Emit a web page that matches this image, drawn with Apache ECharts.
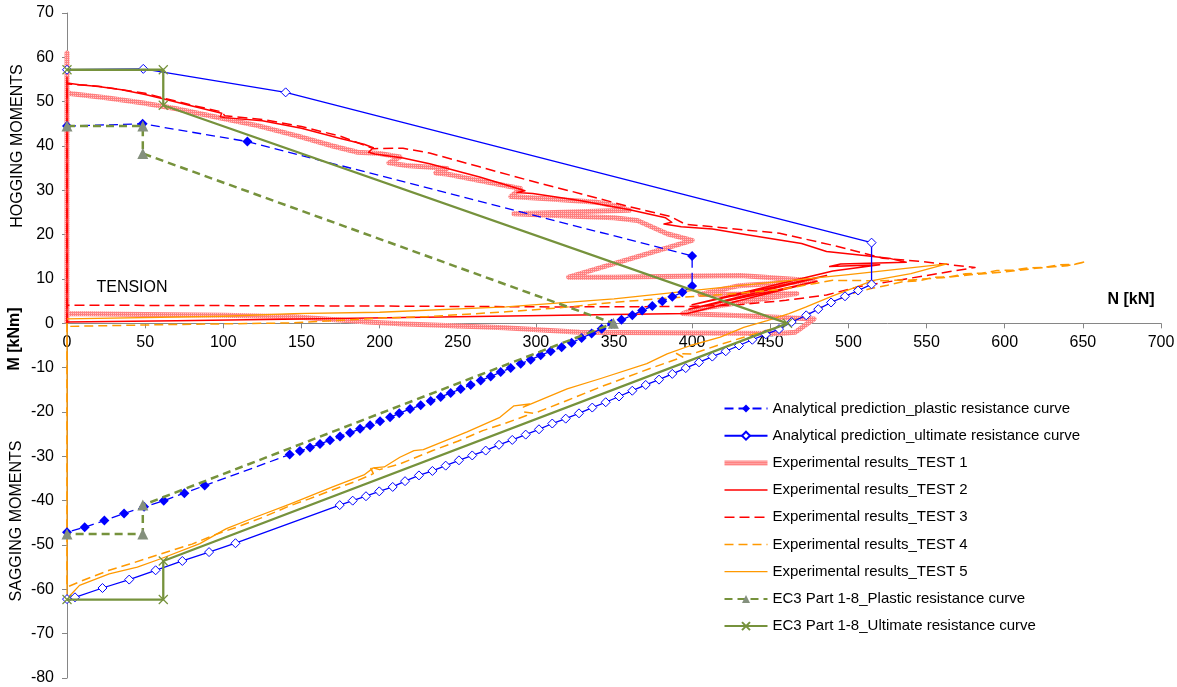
<!DOCTYPE html>
<html>
<head>
<meta charset="utf-8">
<script src="https://cdn.jsdelivr.net/npm/echarts@6/dist/echarts.min.js"></script>
<style>
  html, body { margin: 0; padding: 0; background: #fff; }
  #chart { width: 1177px; height: 687px; }
</style>
</head>
<body>
<div id="chart"></div>
<script>
// M–N interaction: axial force N [kN] against bending moment M [kNm]

const seriesNames = [
  'Analytical prediction_plastic resistance curve',
  'Analytical prediction_ultimate resistance curve',
  'Experimental results_TEST 1',
  'Experimental results_TEST 2',
  'Experimental results_TEST 3',
  'Experimental results_TEST 4',
  'Experimental results_TEST 5',
  'EC3 Part 1-8_Plastic resistance curve',
  'EC3 Part 1-8_Ultimate resistance curve'
];

// [N, M] pairs
const analyticalPlastic = [
  [0,44.5],[48.4,45.0],[115.4,41.0],[400,15.2],[400,8.4],
  [393.7,7.0],[387.3,6.0],[380.9,5.0],[374.5,3.9],[368.0,2.9],[361.7,1.8],[354.8,0.8],
  [348.5,-0.1],[342.1,-1.2],[335.7,-2.3],[329.3,-3.3],[322.9,-4.4],[316.5,-5.4],
  [309.5,-6.3],[303.1,-7.2],[296.7,-8.2],[290.3,-9.1],[283.9,-10.1],[277.5,-11.0],
  [271.1,-12.0],[264.7,-12.9],[258.3,-13.9],[251.9,-14.8],[245.5,-15.7],[239.1,-16.6],
  [232.7,-17.5],[226.3,-18.5],[219.5,-19.3],[212.6,-20.3],[206.7,-21.2],[200.3,-22.1],
  [193.9,-23.0],[187.5,-23.8],[181.1,-24.7],[174.7,-25.5],[168.3,-26.4],[161.9,-27.2],
  [155.5,-28.0],[149.0,-28.8],[142.5,-29.6],[88.1,-36.6],[75.1,-38.3],[61.9,-40.0],
  [49.3,-41.4],[36.5,-42.9],[23.9,-44.5],[11.3,-46.0],[0,-47.1]
];

const analyticalUltimate = [
  [0,57.2],[48.8,57.4],[139.9,52.1],[514.8,18.2],[514.8,8.8],
  [506.2,7.4],[497.8,6.1],[488.9,4.7],[480.7,3.2],[473.0,1.8],[463.7,0.3],
  [455.6,-1.3],[447.1,-2.5],[438.5,-3.7],[430.0,-5.0],[421.5,-6.3],[412.9,-7.5],
  [404.4,-8.8],[395.9,-10.1],[387.3,-11.4],[378.8,-12.7],[370.3,-13.9],[361.7,-15.2],
  [353.2,-16.5],[344.7,-17.8],[336.1,-19.0],[327.6,-20.3],[319.1,-21.5],[310.5,-22.6],
  [302.0,-23.9],[293.5,-25.1],[284.9,-26.3],[276.4,-27.4],[267.9,-28.7],[259.3,-29.8],
  [250.8,-30.9],[242.3,-32.1],[233.8,-33.3],[225.2,-34.3],[216.3,-35.6],[208.4,-36.9],
  [199.8,-37.9],[191.3,-39.0],[182.8,-40.0],[174.5,-41.0],[107.8,-49.6],[90.9,-51.6],
  [73.8,-53.6],[56.7,-55.7],[39.8,-57.8],[22.7,-59.7],[5.1,-61.8],[0,-62.2]
];

const test1 = [
  [0,0],[0,61],[0,55],[0,52],[3,51.8],[25,50.9],[49,49.7],[70,48.4],[96,46.5],
  [122,44.6],[149,42.1],[170,40.0],[186,38.6],[200,38.3],[213,37.5],[206,36.2],
  [217,35.6],[243,34.9],[236,33.9],[243,33.7],[264,32.2],[290,30.4],[284,28.6],
  [307,28.1],[339,27.3],[352,26.4],[360,25.5],[286,24.7],[320,24.2],[350,23.8],
  [365,23.2],[384,20.2],[400,18.7],[321,10.4],[350,10.4],[390,10.6],[431,10.8],
  [478,9.6],[430,8.5],[405,6.5],[440,6.6],[467,6.7],[400,3.0],[394,2.2],[440,1.6],
  [478,1.0],[466,-2.0],[456,-2.3],[400,-2.2],[328,-2.0],[280,-1.0],[213,-0.1],
  [192,0.3],[145,1.5],[100,1.8],[50,2.0],[0,2.2]
];

const test2 = [
  [0,0],[0,55.5],[0,54.2],[8,53.8],[20,53.4],[35,52.7],[50,51.6],[62,50.6],[80,49.0],
  [99,47.4],[98,46.6],[101,46.4],[125,45.7],[150,44.0],[175,41.7],[190,40.4],[196,39.6],
  [193,38.6],[197,38.2],[215,37.3],[232,36.0],[264,33.0],[280,31.3],[293,29.9],[288,29.5],
  [298,29.3],[328,27.7],[360,25.6],[383,23.8],[387,22.8],[382,22.4],[393,21.8],[413,21.3],
  [435,20.0],[456,18.8],[470,18.0],[486,16.2],[510,15.3],[527,14.6],[537,13.8],[495,13.4],
  [488,12.8],[520,13.2],[490,11.8],[400,4.2],[486,10.8],[398,3.2],[480,9.5],[397,2.2],
  [350,2.0],[250,1.5],[150,1.0],[70,0.6],[0,0.3]
];

const test3 = [
  [0,0],[0,54.6],[0,54.0],[20,53.5],[50,51.9],[62,50.8],[80,49.2],[99,47.7],[101,46.8],
  [125,46.0],[150,44.4],[175,42.2],[196,39.4],[215,39.5],[232,38.4],[264,35.3],[296,32.2],
  [328,29.3],[360,26.3],[386,24.1],[396,22.3],[413,21.8],[456,20.3],[490,17.6],[522,14.7],
  [545,14.0],[581,12.6],[533,9.8],[507,8.3],[486,6.4],[460,5.2],[430,4.2],[398,3.8],
  [315,3.7],[200,3.9],[100,4.0],[0,4.1]
];

const test4 = [
  [0,0],[0,-59.5],[10,-58.0],[27,-55.7],[40,-54.3],[60,-52.0],[80,-49.8],[96,-47.5],
  [110,-45.8],[125,-43.8],[143,-41.1],[155,-39.6],[166,-38.1],[185,-35.6],[196,-33.9],
  [194,-32.4],[200,-33.0],[213,-31.7],[234,-28.7],[250,-26.6],[266,-24.2],[280,-22.6],
  [294,-20.8],[292,-20.0],[299,-20.3],[320,-17.4],[341,-14.4],[357,-12.3],[373,-10.2],
  [394,-7.6],[390,-6.8],[400,-6.9],[416,-5.0],[437,-2.7],[458,-0.5],[470,1.4],[482,3.6],
  [495,5.6],[505,7.0],[515,7.9],[525,8.6],[535,9.4],[545,9.6],[555,10.4],[565,10.5],
  [575,11.2],[585,11.3],[595,11.9],[605,12.0],[615,12.5],[625,12.6],[635,13.2],[645,13.3],
  [652,13.9],[640,13.0],[620,12.4],[600,11.6],[580,11.0],[560,10.3],[540,9.8],[520,9.6],
  [490,9.7],[456,7.6],[420,6.5],[377,5.5],[349,4.7],[315,3.5],[281,2.6],[230,1.5],
  [200,1.2],[145,0.1],[60,-0.3],[0,-0.7]
];

const test5 = [
  [0,0],[0,-62],[3,-61],[8,-59.1],[27,-56.5],[45,-55.0],[60,-53.1],[85,-49.7],[96,-47.5],
  [102,-46.3],[120,-43.8],[143,-40.7],[170,-36.9],[190,-34.2],[196,-32.6],[203,-32.4],
  [213,-30.2],[222,-28.7],[228,-28.5],[256,-24.5],[277,-21.2],[286,-18.6],[296,-18.2],
  [292,-18.9],[320,-14.8],[341,-12.5],[371,-9.1],[384,-6.9],[399,-5.0],[418,-3.1],
  [433,-0.9],[448,0.6],[462,2.2],[473,3.7],[490,6.2],[516,9.7],[540,11.2],[563,13.4],
  [500,11.0],[430,8.5],[350,5.5],[281,3.7],[200,2.5],[145,2.2],[100,1.6],[0,1.0]
];

const ec3Plastic = [
  [0,44.5],[48.5,44.5],[48.5,38.3],[349.6,0],[48.5,-41.0],[48.5,-47.5],[0,-47.5]
];

const ec3Ultimate = [
  [0,57.2],[61.6,57.2],[61.6,49.2],[461,0],[61.6,-53.6],[61.6,-62.3],[0,-62.3]
];

const FONT = "'Liberation Sans', Arial, sans-serif";
const BLUE = '#0000ff', RED = '#ff0000', ORANGE = '#ff9900';
const GREEN = '#76923c', GREY_TRI = '#84907d';
const CROSS = 'path://M0,0L10,10M10,0L0,10';

// Speckled texture for the TEST 1 trace
function speckle() {
  const c = document.createElement('canvas');
  c.width = 2; c.height = 2;
  const g = c.getContext('2d');
  g.fillStyle = '#ff8080';
  g.fillRect(0, 0, 2, 2);
  g.fillStyle = '#ffc8c8';
  g.fillRect(1, 1, 1, 1);
  return { image: c, repeat: 'repeat' };
}
const PINK = speckle();

// plot frame in pixels
const GRID = { left: 67, right: 16, top: 13, bottom: 9 };
const Y_MIN = -80, Y_MAX = 70;
const plotH = 687 - GRID.top - GRID.bottom;
// shift the N axis up so it sits on M = 0
const xAxisOffset = -plotH * (0 - Y_MIN) / (Y_MAX - Y_MIN);

const chart = echarts.init(document.getElementById('chart'), null, { renderer: 'canvas' });

function testSeries(name, data, color, width, type, z) {
  return {
    name, type: 'line', data, z,
    symbol: 'none', showSymbol: false, smooth: false,
    lineStyle: { color, width, type, cap: 'butt', join: 'round' },
    itemStyle: { color: typeof color === 'string' ? color : '#ff8080' }
  };
}

// test traces: line only in the legend, keep their own stroke widths
const legendWidths = { 2: 5, 3: 1.5, 4: 1.5, 5: 1.5, 6: 1.3 };
const legendData = seriesNames.map((name, i) =>
  (i >= 2 && i <= 6)
    ? { name, itemStyle: { opacity: 0 }, lineStyle: { width: legendWidths[i] } }
    : { name });

chart.setOption({
  animation: false,
  backgroundColor: '#ffffff',
  grid: { left: GRID.left, right: GRID.right, top: GRID.top, bottom: GRID.bottom,
          containLabel: false, outerBoundsMode: 'none' },
  xAxis: {
    type: 'value', min: 0, max: 700, interval: 50,
    offset: xAxisOffset,
    axisLine: { onZero: false, lineStyle: { color: '#868686', width: 1 } },
    axisTick: { show: true, length: 5, lineStyle: { color: '#868686' } },
    splitLine: { show: false },
    axisLabel: { fontSize: 16, fontFamily: FONT, color: '#000', margin: 11 }
  },
  yAxis: {
    type: 'value', min: Y_MIN, max: Y_MAX, interval: 10,
    axisLine: { show: true, onZero: false, lineStyle: { color: '#868686', width: 1 } },
    axisTick: { show: true, length: 5, lineStyle: { color: '#868686' } },
    splitLine: { show: false },
    axisLabel: { fontSize: 16, fontFamily: FONT, color: '#000', margin: 13 }
  },
  legend: {
    data: legendData,
    orient: 'vertical',
    left: 722, top: 401, padding: 0,
    itemWidth: 43, itemHeight: 10, itemGap: 12.2,
    textStyle: { fontSize: 15, fontFamily: FONT, color: '#000', lineHeight: 15 },
    selectedMode: false
  },
  graphic: [
    { type: 'text', x: 18, y: 146, rotation: Math.PI / 2,
      style: { text: 'HOGGING MOMENTS', fontSize: 16, fontFamily: FONT, fill: '#000', align: 'center', verticalAlign: 'middle' } },
    { type: 'text', x: 17, y: 521, rotation: Math.PI / 2,
      style: { text: 'SAGGING MOMENTS', fontSize: 16, fontFamily: FONT, fill: '#000', align: 'center', verticalAlign: 'middle' } },
    { type: 'text', x: 15, y: 339, rotation: Math.PI / 2,
      style: { text: 'M [kNm]', fontSize: 16, fontWeight: 'bold', fontFamily: FONT, fill: '#000', align: 'center', verticalAlign: 'middle' } },
    { type: 'text', x: 132, y: 288,
      style: { text: 'TENSION', fontSize: 16, fontFamily: FONT, fill: '#000', align: 'center', verticalAlign: 'middle' } },
    { type: 'text', x: 1131, y: 300,
      style: { text: 'N [kN]', fontSize: 16, fontWeight: 'bold', fontFamily: FONT, fill: '#000', align: 'center', verticalAlign: 'middle' } }
  ],
  series: [
    testSeries(seriesNames[2], test1, PINK, 5, 'solid', 2),
    testSeries(seriesNames[3], test2, RED, 1.5, 'solid', 3),
    testSeries(seriesNames[4], test3, RED, 1.5, [10, 5], 3),
    testSeries(seriesNames[5], test4, ORANGE, 1.5, [9, 5], 4),
    testSeries(seriesNames[6], test5, ORANGE, 1.3, 'solid', 4),
    {
      name: seriesNames[0], type: 'line', data: analyticalPlastic, z: 5,
      symbol: 'diamond', symbolSize: 10,
      lineStyle: { color: BLUE, width: 1.3, type: [9, 5] },
      itemStyle: { color: BLUE }
    },
    {
      name: seriesNames[1], type: 'line', data: analyticalUltimate, z: 5,
      symbol: 'diamond', symbolSize: 9,
      lineStyle: { color: BLUE, width: 1.3, type: 'solid' },
      itemStyle: { color: '#ffffff', borderColor: BLUE, borderWidth: 1 }
    },
    {
      name: seriesNames[7], type: 'line', data: ec3Plastic, z: 6,
      symbol: 'triangle', symbolSize: 11,
      lineStyle: { color: GREEN, width: 2.5, type: [8, 5] },
      itemStyle: { color: GREY_TRI }
    },
    {
      name: seriesNames[8], type: 'line', data: ec3Ultimate, z: 6,
      symbol: CROSS, symbolSize: 9,
      lineStyle: { color: GREEN, width: 2.3, type: 'solid' },
      itemStyle: { color: 'rgba(0,0,0,0)', borderColor: GREEN, borderWidth: 1.2 }
    }
  ]
});
</script>
</body>
</html>
